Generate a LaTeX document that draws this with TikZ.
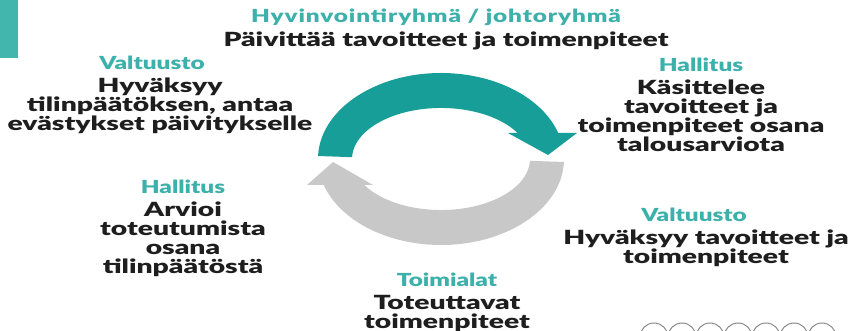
\documentclass[tikz,border=0pt]{standalone}
\usepackage{fontspec}
\setmainfont{Lato}[FakeStretch=1.35,BoldFont={Lato Black}]
\newfontfamily\stepfont{Lato}[FakeStretch=1.45,BoldFont={Lato Black}]
\usetikzlibrary{positioning}
\definecolor{ringteal}{RGB}{24,158,152}
\definecolor{headteal}{RGB}{60,176,170}
\definecolor{barteal}{RGB}{66,181,173}
\definecolor{ringgray}{RGB}{200,200,200}
\definecolor{inkgray}{RGB}{30,30,30}
\tikzstyle{head}=[text=headteal,font=\bfseries\fontsize{18}{18}\selectfont,inner sep=0pt]
\tikzstyle{body}=[text=inkgray,font=\stepfont\bfseries\fontsize{19.5}{18.8}\selectfont,align=center,inner sep=0pt]
\newcommand{\newStep}[5]{\node[head](#1h) at (#2){#3};
  \node[body,below=8pt of #1h,#4](#1){#5};}

\begin{document}
\begin{tikzpicture}[x=1pt,y=1pt]
    \clip (0,0) rectangle (851,331);
    \fill[white] (0,0) rectangle (851,331);
    \fill[barteal] (0,273) rectangle (18,331);
    % the two halves of the cycle
    \fill[ringteal] (318.07,175) arc[start angle=178,end angle=17.6,x radius=123pt,y radius=86pt]
      -- (577,198) -- (548,176) -- (508,198) -- (517.6,198)
      arc[start angle=30.6,end angle=178,x radius=89pt,y radius=51pt] -- cycle;
    \fill[ringgray] (563.93,169) arc[start angle=-2,end angle=-162.4,x radius=123pt,y radius=86pt]
      -- (307,146) -- (333,169) -- (373,146) -- (364.38,146)
      arc[start angle=-149.4,end angle=-2,x radius=89pt,y radius=51pt] -- cycle;
    \newStep{ryhma}{436,314}{\addfontfeature{LetterSpace=5}Hyvinvointiryhmä / johtoryhmä}{xshift=10pt,yshift=2pt}{Päivittää tavoitteet ja toimenpiteet}
    \newStep{valt1}{152,268}{Valtuusto}{xshift=8pt}{Hyväksyy\\tilinpäätöksen, antaa\\evästykset päivitykselle}
    \newStep{hall1}{701,266}{Hallitus}{}{Käsittelee\\tavoitteet ja\\toimenpiteet osana\\talousarviota}
    \newStep{valt2}{694,116}{Valtuusto}{xshift=12pt}{Hyväksyy tavoitteet ja\\toimenpiteet}
    \newStep{toimi}{447,51}{Toimialat}{}{Toteuttavat\\toimenpiteet}
    \newStep{hall2}{183,144}{Hallitus}{}{Arvioi\\toteutumista\\osana\\tilinpäätöstä}
    % partly hidden row of icons
    \foreach \i in {0,...,6}
      \draw[ringgray!70!black,line width=1pt] (654+28*\i,-6) circle (14);
\end{tikzpicture}
\end{document}
